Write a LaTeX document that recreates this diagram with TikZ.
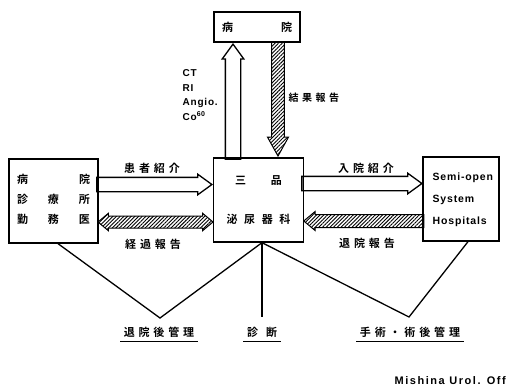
\documentclass[tikz,border=0pt]{standalone}
\usepackage{fontspec}
\setmainfont{Liberation Sans}
\newfontfamily\jp[LetterSpace=35,BoldFont={Noto Sans CJK JP Bold}]{Noto Sans CJK JP}
\newfontfamily\jpw[LetterSpace=60,BoldFont={Noto Sans CJK JP Bold}]{Noto Sans CJK JP}
\newfontfamily\jpn[BoldFont={Noto Sans CJK JP Bold}]{Noto Sans CJK JP}
\newfontfamily\lat[LetterSpace=8]{Liberation Sans}
\newfontfamily\latc[LetterSpace=14]{Liberation Sans}
\usetikzlibrary{shapes.arrows,patterns.meta,positioning}

\begin{document}
\begin{tikzpicture}[x=1pt,y=-1pt,line width=1.3pt,
  box/.style={draw, inner sep=0pt},
  shaft/.style={text height=#1, text depth=#1, text width=0pt},
  hollow/.style={single arrow, draw, inner sep=0pt, shaft=6.5pt,
    single arrow head extend=3.2, single arrow tip angle=72},
  hatch/.style={pattern={Lines[angle=45,distance=2.6pt,line width=0.9pt]}},
  hatched/.style={single arrow, draw, line width=1pt, inner sep=0pt, hatch},
  jlabel/.style={font=\jp\bfseries\fontsize{11}{13}\selectfont, inner sep=1pt},
  under/.style={double, double distance=1.2pt, line width=0.7pt}]
  \useasboundingbox (0,0) rectangle (508,388);

  % boxes
  \node[box, minimum width=86, minimum height=30,
        font=\jpn\bfseries\fontsize{11}{13}\selectfont] (hosp) at (257,27)
        {病\hspace{48pt}院};
  \node[box, minimum width=89, minimum height=84,
        font=\jpn\bfseries\fontsize{11}{13}\selectfont] (clinic) at (53.5,201)
        {\begin{tabular}{@{}c@{\hspace{20pt}}c@{\hspace{20pt}}c@{}}
         病 & & 院\\[7pt] 診 & 療 & 所\\[7pt] 勤 & 務 & 医
         \end{tabular}};
  \node[box, minimum width=90, minimum height=84, align=center,
        font=\jpn\bfseries\fontsize{11}{13}\selectfont] (uro) at (258.5,200)
        {三\hspace{25pt}品\\[26pt]{\jpw\bfseries 泌尿器科}};
  \node[box, minimum width=76, minimum height=84] (semi) at (461,199) {};
  \node[anchor=west, align=left, inner sep=0pt,
        font=\lat\bfseries\fontsize{10.5}{22}\selectfont] (semitext) at (432,200)
        {Semi-open\\System\\Hospitals};

  % arrows
  \node[hollow, minimum height=115, anchor=tip] (refer) at (213,184.5) {};
  \node[hollow, minimum height=120, anchor=tip] (admit) at (423,183.5) {};
  \node[hollow, minimum height=115, shaft=7pt, rotate=90,
        anchor=tip] (exam) at (233,43) {};
  \node[hatched, minimum height=114, shaft=6pt,
        single arrow head extend=4, single arrow tip angle=58,
        rotate=-90, anchor=tip] (result) at (278,157) {};
  \node[double arrow, draw, line width=1pt, inner sep=0pt, hatch,
        minimum height=115, shaft=5.5pt,
        double arrow head extend=2.8, double arrow tip angle=80]
        (course) at (155.5,222) {};
  \node[hatched, minimum height=120, shaft=6pt,
        single arrow head extend=3, single arrow tip angle=80,
        shape border rotate=180, anchor=tip] (leave) at (303,221) {};

  % arrow labels
  \node[jlabel] (l1) at (152,168) {患者紹介};
  \node[jlabel] (l2) at (153,244) {経過報告};
  \node[jlabel] (l3) at (366,168) {入院紹介};
  \node[jlabel] (l4) at (367,243) {退院報告};
  \node[jlabel, anchor=west, font=\jp\bfseries\fontsize{10}{12}\selectfont]
        (l5) at (287,98) {結果報告};
  \node[anchor=west, align=left, inner sep=0pt,
        font=\lat\bfseries\fontsize{10}{14.7}\selectfont] (modal) at (182,95)
        {CT\\RI\\Angio.\\Co\textsuperscript{60}};

  % bottom
  \coordinate (pa) at (160,318);
  \coordinate (pd) at (262,317);
  \coordinate (ps) at (409,317);
  \node[jlabel, inner sep=3pt] (after) at (159,332) {退院後管理};
  \node[jlabel, inner sep=3pt] (diag) at (262,332) {診\hspace{8pt}断};
  \node[jlabel, inner sep=3pt] (surg) at (410,332) {手術・術後管理};
  \foreach \n in {after,diag,surg}
    \draw[under] (\n.south west) -- (\n.south east);

  \draw ([xshift=4.5pt]clinic.south) -- (pa) -- ([xshift=3.5pt]uro.south);
  \draw ([xshift=3.5pt]uro.south) -- (pd);
  \draw ([xshift=3.5pt]uro.south) -- (ps) -- ([xshift=7pt]semi.south);

  \node[anchor=west, inner sep=0pt, font=\latc\bfseries\fontsize{11}{13}\selectfont]
        (credit) at (394,381) {Mishina Urol. Off};
\end{tikzpicture}
\end{document}
